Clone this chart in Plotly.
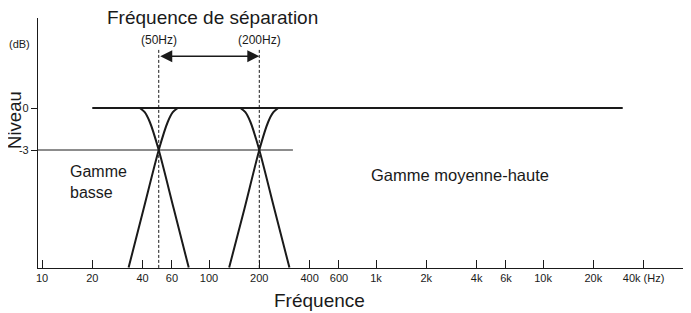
import numpy as np
import plotly.graph_objects as go

# ---- data ----
crossover_hz = [50, 200]
crossover_labels = ["(50Hz)", "(200Hz)"]

flat_hz = [20, 30000]
flat_db = [0, 0]

low_fall_hz = [38.5, 41.2, 44.2, 50, 61.5, 75.6]
low_fall_db = [0, -0.3, -1.0, -3, -7.2, -11.4]
low_rise_hz = [33, 40.6, 50, 56.6, 60.7, 65]
low_rise_db = [-11.4, -7.2, -3, -1.0, -0.3, 0]

mid_fall_hz = [154, 165, 177, 200, 246, 303]
mid_fall_db = [0, -0.3, -1.0, -3, -7.2, -11.4]
mid_rise_hz = [132, 163, 200, 226, 243, 260]
mid_rise_db = [-11.4, -7.2, -3, -1.0, -0.3, 0]

minus3_end_hz = 318
minus3_db = -3

x_tick_vals = [10, 20, 40, 60, 100, 200, 400, 600, 1000, 2000, 4000, 6000, 10000, 20000, 40000]
x_tick_text = ["10", "20", "40", "60", "100", "200", "400", "600", "1k", "2k", "4k", "6k", "10k", "20k", "40k (Hz)"]
y_tick_vals = [0, -3]
y_tick_text = ["0", "-3"]

x_range_log = [0.976, 4.880]
y_range = [-11.43, 6.43]

FONT = "Liberation Sans, Arial, Helvetica, sans-serif"
INK = "#1a1a1a"

fig = go.Figure()

curve_style = dict(color=INK, width=2)
fig.add_trace(go.Scatter(x=flat_hz, y=flat_db, mode="lines", line=curve_style))
for fx, fy in [(low_fall_hz, low_fall_db), (low_rise_hz, low_rise_db),
               (mid_fall_hz, mid_fall_db), (mid_rise_hz, mid_rise_db)]:
    fig.add_trace(go.Scatter(x=fx, y=fy, mode="lines",
                             line=dict(color=INK, width=2, shape="spline", smoothing=0.8)))

# -3 dB reference line
fig.add_trace(go.Scatter(x=[10 ** x_range_log[0], minus3_end_hz], y=[minus3_db, minus3_db],
                         mode="lines", line=dict(color=INK, width=1)))

# dashed crossover lines
dash_top_db = 4.15
for f in crossover_hz:
    fig.add_trace(go.Scatter(x=[f, f], y=[dash_top_db, y_range[0]], mode="lines",
                             line=dict(color=INK, width=1, dash="3px,2px")))

annotations = []
# double arrow between crossovers
arrow_db = 3.7
annotations.append(dict(x=np.log10(crossover_hz[1]), y=arrow_db, ax=np.log10(crossover_hz[0]), ay=arrow_db,
                        xref="x", yref="y", axref="x", ayref="y", text="", showarrow=True,
                        arrowhead=2, startarrowhead=2, arrowside="end+start", arrowsize=1.6,
                        arrowwidth=1.5, arrowcolor=INK))
for f, lab in zip(crossover_hz, crossover_labels):
    annotations.append(dict(x=np.log10(f), y=4.85, xref="x", yref="y", text=lab, showarrow=False,
                            xanchor="center", yanchor="middle",
                            font=dict(size=12, color=INK, family=FONT)))

centered = dict(xref="paper", yref="paper", xanchor="center", yanchor="middle", showarrow=False)
annotations += [
    dict(x=0.268, y=1.004, text="Fréquence de séparation",
         font=dict(size=19, color=INK, family=FONT), **centered),
    dict(x=-0.037, y=0.592, text="Niveau", textangle=-90,
         font=dict(size=18.5, color=INK, family=FONT), **centered),
    dict(x=0.4325, y=-0.128, text="Fréquence",
         font=dict(size=19, color=INK, family=FONT), **centered),
    dict(x=-0.028, y=0.896, text="(dB)",
         font=dict(size=11, color=INK, family=FONT), **centered),
    dict(x=1.156, y=-5.3, xref="x", yref="y", text="Gamme<br>basse", align="left",
         xanchor="left", yanchor="middle", showarrow=False, font=dict(size=16, color=INK, family=FONT)),
    dict(x=2.958, y=-4.8, xref="x", yref="y", text="Gamme moyenne-haute",
         xanchor="left", yanchor="middle", showarrow=False, font=dict(size=16.5, color=INK, family=FONT)),
]

# the page body adds an 8px offset, so the figure is sized to fit the 691x313 window
fig.update_layout(
    width=683, height=305,
    margin=dict(l=30, r=1, t=10, b=45),
    paper_bgcolor="white", plot_bgcolor="white",
    showlegend=False,
    annotations=annotations,
    font=dict(family=FONT, color=INK),
)
fig.update_xaxes(type="log", range=x_range_log, showgrid=False, zeroline=False, automargin=False,
                 showline=True, linecolor=INK, linewidth=1.2,
                 tickvals=x_tick_vals, ticktext=x_tick_text, ticks="inside", ticklen=8,
                 tickcolor=INK, tickwidth=1, tickfont=dict(size=11, color=INK, family=FONT))
fig.update_yaxes(range=y_range, showgrid=False, zeroline=False, automargin=False,
                 showline=True, linecolor=INK, linewidth=1.2,
                 tickvals=y_tick_vals, ticktext=y_tick_text, ticks="outside", ticklen=6,
                 tickcolor=INK, tickwidth=1, tickfont=dict(size=11, color=INK, family=FONT))

fig.write_html("out.html")
